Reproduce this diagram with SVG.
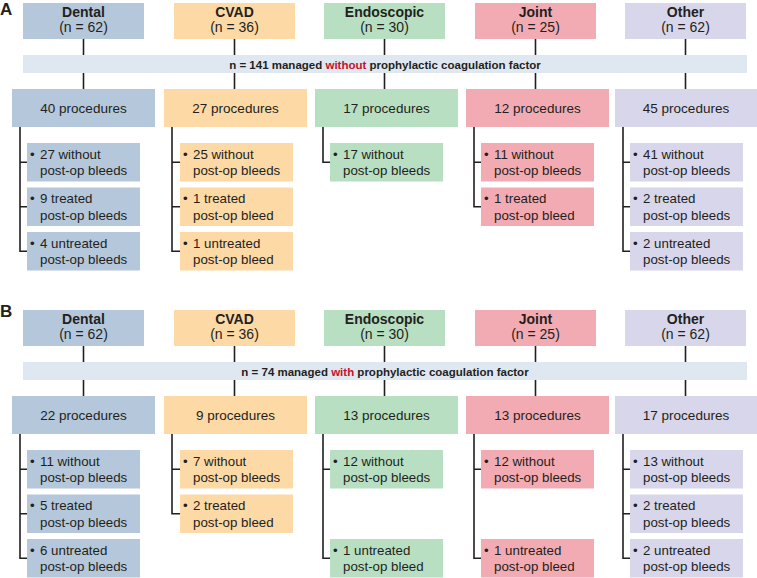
<svg xmlns="http://www.w3.org/2000/svg" width="757" height="578" viewBox="0 0 757 578">
<style>
text{font-family:"Liberation Sans",Arial,sans-serif;fill:#231f20}
.hd{font-size:14px;font-weight:bold;text-anchor:middle}
.hn{font-size:14px;text-anchor:middle}
.pr{font-size:13.5px;text-anchor:middle}
.sb{font-size:13.3px}
.bn{font-size:11.5px;font-weight:bold;text-anchor:middle}
.red{fill:#c8102e}
.pl{font-size:17px;font-weight:bold}
.den{fill:#b5c7db}.cva{fill:#fdd9a6}.end{fill:#b8dfc1}.joi{fill:#f3abb3}.oth{fill:#d8d6ea}.ban{fill:#dfe7f1}
.cn{fill:none;stroke:#231f20;stroke-width:1.6}
</style>
<rect width="757" height="578" fill="#fff"/>
<text class="pl" x="0" y="15">A</text>
<text class="pl" x="0" y="317">B</text>

<g id="connectors">
<path class="cn" d="M83.5 39V55M83.5 73V89M234.5 39V55M234.5 73V89M384.5 39V55M384.5 73V89M535.5 39V55M535.5 73V89M685.5 39V55M685.5 73V89"/>
<path class="cn" d="M20 127V251.25H27M20 162.25H27M20 206.75H27"/>
<path class="cn" d="M172 127V251.25H180M172 162.25H180M172 206.75H180"/>
<path class="cn" d="M323 127V162.25H330"/>
<path class="cn" d="M474 127V206.75H481M474 162.25H481"/>
<path class="cn" d="M623 127V251.25H630M623 162.25H630M623 206.75H630"/>
<path class="cn" d="M83.5 346V362M83.5 380V396M234.5 346V362M234.5 380V396M384.5 346V362M384.5 380V396M535.5 346V362M535.5 380V396M685.5 346V362M685.5 380V396"/>
<path class="cn" d="M20 434V558.25H27M20 469.25H27M20 513.75H27"/>
<path class="cn" d="M172 434V513.75H180M172 469.25H180"/>
<path class="cn" d="M323 434V558.25H330M323 469.25H330"/>
<path class="cn" d="M474 434V558.25H481M474 469.25H481"/>
<path class="cn" d="M623 434V558.25H630M623 469.25H630M623 513.75H630"/>
</g>

<!-- Panel A -->
<g id="a-dental-head"><rect class="den" x="23" y="3" width="121" height="36"/><text class="hd" x="83.5" y="17">Dental</text><text class="hn" x="83.5" y="32">(n = 62)</text></g>
<g id="a-cvad-head"><rect class="cva" x="174" y="3" width="121" height="36"/><text class="hd" x="234.5" y="17">CVAD</text><text class="hn" x="234.5" y="32">(n = 36)</text></g>
<g id="a-endo-head"><rect class="end" x="324" y="3" width="121" height="36"/><text class="hd" x="384.5" y="17">Endoscopic</text><text class="hn" x="384.5" y="32">(n = 30)</text></g>
<g id="a-joint-head"><rect class="joi" x="475" y="3" width="121" height="36"/><text class="hd" x="535.5" y="17">Joint</text><text class="hn" x="535.5" y="32">(n = 25)</text></g>
<g id="a-other-head"><rect class="oth" x="625" y="3" width="121" height="36"/><text class="hd" x="685.5" y="17">Other</text><text class="hn" x="685.5" y="32">(n = 62)</text></g>

<g id="a-banner"><rect class="ban" x="23" y="55" width="724" height="18"/><text class="bn" x="385" y="68.5">n = 141 managed <tspan class="red">without</tspan> prophylactic coagulation factor</text></g>

<g id="a-dental-proc"><rect class="den" x="12" y="89" width="143" height="38"/><text class="pr" x="83.5" y="113">40 procedures</text></g>
<g id="a-cvad-proc"><rect class="cva" x="164" y="89" width="143" height="38"/><text class="pr" x="235.5" y="113">27 procedures</text></g>
<g id="a-endo-proc"><rect class="end" x="315" y="89" width="143" height="38"/><text class="pr" x="386.5" y="113">17 procedures</text></g>
<g id="a-joint-proc"><rect class="joi" x="466" y="89" width="143" height="38"/><text class="pr" x="537.5" y="113">12 procedures</text></g>
<g id="a-other-proc"><rect class="oth" x="615" y="89" width="143" height="38"/><text class="pr" x="686" y="113">45 procedures</text></g>

<g id="a-dental-1"><rect class="den" x="27" y="143" width="113" height="38.5"/><text class="sb" x="30" y="158.5">•</text><text class="sb" x="40" y="158.5">27 without</text><text class="sb" x="40" y="175">post-op bleeds</text></g>
<g id="a-dental-2"><rect class="den" x="27" y="187.5" width="113" height="38.5"/><text class="sb" x="30" y="203">•</text><text class="sb" x="40" y="203">9 treated</text><text class="sb" x="40" y="219.5">post-op bleeds</text></g>
<g id="a-dental-3"><rect class="den" x="27" y="232" width="113" height="38.5"/><text class="sb" x="30" y="247.5">•</text><text class="sb" x="40" y="247.5">4 untreated</text><text class="sb" x="40" y="264">post-op bleeds</text></g>

<g id="a-cvad-1"><rect class="cva" x="180" y="143" width="113" height="38.5"/><text class="sb" x="183" y="158.5">•</text><text class="sb" x="193" y="158.5">25 without</text><text class="sb" x="193" y="175">post-op bleeds</text></g>
<g id="a-cvad-2"><rect class="cva" x="180" y="187.5" width="113" height="38.5"/><text class="sb" x="183" y="203">•</text><text class="sb" x="193" y="203">1 treated</text><text class="sb" x="193" y="219.5">post-op bleed</text></g>
<g id="a-cvad-3"><rect class="cva" x="180" y="232" width="113" height="38.5"/><text class="sb" x="183" y="247.5">•</text><text class="sb" x="193" y="247.5">1 untreated</text><text class="sb" x="193" y="264">post-op bleed</text></g>

<g id="a-endo-1"><rect class="end" x="330" y="143" width="113" height="38.5"/><text class="sb" x="333" y="158.5">•</text><text class="sb" x="343" y="158.5">17 without</text><text class="sb" x="343" y="175">post-op bleeds</text></g>

<g id="a-joint-1"><rect class="joi" x="481" y="143" width="113" height="38.5"/><text class="sb" x="484" y="158.5">•</text><text class="sb" x="494" y="158.5">11 without</text><text class="sb" x="494" y="175">post-op bleeds</text></g>
<g id="a-joint-2"><rect class="joi" x="481" y="187.5" width="113" height="38.5"/><text class="sb" x="484" y="203">•</text><text class="sb" x="494" y="203">1 treated</text><text class="sb" x="494" y="219.5">post-op bleed</text></g>

<g id="a-other-1"><rect class="oth" x="630" y="143" width="113" height="38.5"/><text class="sb" x="633" y="158.5">•</text><text class="sb" x="643" y="158.5">41 without</text><text class="sb" x="643" y="175">post-op bleeds</text></g>
<g id="a-other-2"><rect class="oth" x="630" y="187.5" width="113" height="38.5"/><text class="sb" x="633" y="203">•</text><text class="sb" x="643" y="203">2 treated</text><text class="sb" x="643" y="219.5">post-op bleeds</text></g>
<g id="a-other-3"><rect class="oth" x="630" y="232" width="113" height="38.5"/><text class="sb" x="633" y="247.5">•</text><text class="sb" x="643" y="247.5">2 untreated</text><text class="sb" x="643" y="264">post-op bleeds</text></g>

<!-- Panel B -->
<g id="b-dental-head"><rect class="den" x="23" y="310" width="121" height="36"/><text class="hd" x="83.5" y="324">Dental</text><text class="hn" x="83.5" y="339">(n = 62)</text></g>
<g id="b-cvad-head"><rect class="cva" x="174" y="310" width="121" height="36"/><text class="hd" x="234.5" y="324">CVAD</text><text class="hn" x="234.5" y="339">(n = 36)</text></g>
<g id="b-endo-head"><rect class="end" x="324" y="310" width="121" height="36"/><text class="hd" x="384.5" y="324">Endoscopic</text><text class="hn" x="384.5" y="339">(n = 30)</text></g>
<g id="b-joint-head"><rect class="joi" x="475" y="310" width="121" height="36"/><text class="hd" x="535.5" y="324">Joint</text><text class="hn" x="535.5" y="339">(n = 25)</text></g>
<g id="b-other-head"><rect class="oth" x="625" y="310" width="121" height="36"/><text class="hd" x="685.5" y="324">Other</text><text class="hn" x="685.5" y="339">(n = 62)</text></g>

<g id="b-banner"><rect class="ban" x="23" y="362" width="724" height="18"/><text class="bn" x="385" y="375.5">n = 74 managed <tspan class="red">with</tspan> prophylactic coagulation factor</text></g>

<g id="b-dental-proc"><rect class="den" x="12" y="396" width="143" height="38"/><text class="pr" x="83.5" y="420">22 procedures</text></g>
<g id="b-cvad-proc"><rect class="cva" x="164" y="396" width="143" height="38"/><text class="pr" x="235.5" y="420">9 procedures</text></g>
<g id="b-endo-proc"><rect class="end" x="315" y="396" width="143" height="38"/><text class="pr" x="386.5" y="420">13 procedures</text></g>
<g id="b-joint-proc"><rect class="joi" x="466" y="396" width="143" height="38"/><text class="pr" x="537.5" y="420">13 procedures</text></g>
<g id="b-other-proc"><rect class="oth" x="615" y="396" width="143" height="38"/><text class="pr" x="686" y="420">17 procedures</text></g>

<g id="b-dental-1"><rect class="den" x="27" y="450" width="113" height="38.5"/><text class="sb" x="30" y="465.5">•</text><text class="sb" x="40" y="465.5">11 without</text><text class="sb" x="40" y="482">post-op bleeds</text></g>
<g id="b-dental-2"><rect class="den" x="27" y="494.5" width="113" height="38.5"/><text class="sb" x="30" y="510">•</text><text class="sb" x="40" y="510">5 treated</text><text class="sb" x="40" y="526.5">post-op bleeds</text></g>
<g id="b-dental-3"><rect class="den" x="27" y="539" width="113" height="38.5"/><text class="sb" x="30" y="554.5">•</text><text class="sb" x="40" y="554.5">6 untreated</text><text class="sb" x="40" y="571">post-op bleeds</text></g>

<g id="b-cvad-1"><rect class="cva" x="180" y="450" width="113" height="38.5"/><text class="sb" x="183" y="465.5">•</text><text class="sb" x="193" y="465.5">7 without</text><text class="sb" x="193" y="482">post-op bleeds</text></g>
<g id="b-cvad-2"><rect class="cva" x="180" y="494.5" width="113" height="38.5"/><text class="sb" x="183" y="510">•</text><text class="sb" x="193" y="510">2 treated</text><text class="sb" x="193" y="526.5">post-op bleed</text></g>

<g id="b-endo-1"><rect class="end" x="330" y="450" width="113" height="38.5"/><text class="sb" x="333" y="465.5">•</text><text class="sb" x="343" y="465.5">12 without</text><text class="sb" x="343" y="482">post-op bleeds</text></g>
<g id="b-endo-3"><rect class="end" x="330" y="539" width="113" height="38.5"/><text class="sb" x="333" y="554.5">•</text><text class="sb" x="343" y="554.5">1 untreated</text><text class="sb" x="343" y="571">post-op bleed</text></g>

<g id="b-joint-1"><rect class="joi" x="481" y="450" width="113" height="38.5"/><text class="sb" x="484" y="465.5">•</text><text class="sb" x="494" y="465.5">12 without</text><text class="sb" x="494" y="482">post-op bleeds</text></g>
<g id="b-joint-3"><rect class="joi" x="481" y="539" width="113" height="38.5"/><text class="sb" x="484" y="554.5">•</text><text class="sb" x="494" y="554.5">1 untreated</text><text class="sb" x="494" y="571">post-op bleed</text></g>

<g id="b-other-1"><rect class="oth" x="630" y="450" width="113" height="38.5"/><text class="sb" x="633" y="465.5">•</text><text class="sb" x="643" y="465.5">13 without</text><text class="sb" x="643" y="482">post-op bleeds</text></g>
<g id="b-other-2"><rect class="oth" x="630" y="494.5" width="113" height="38.5"/><text class="sb" x="633" y="510">•</text><text class="sb" x="643" y="510">2 treated</text><text class="sb" x="643" y="526.5">post-op bleeds</text></g>
<g id="b-other-3"><rect class="oth" x="630" y="539" width="113" height="38.5"/><text class="sb" x="633" y="554.5">•</text><text class="sb" x="643" y="554.5">2 untreated</text><text class="sb" x="643" y="571">post-op bleeds</text></g>
</svg>
